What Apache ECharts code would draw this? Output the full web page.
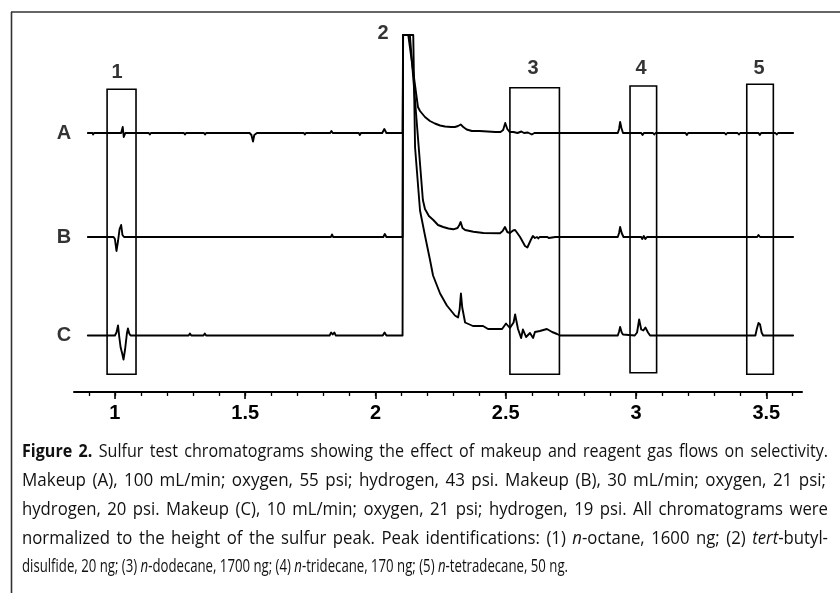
<!DOCTYPE html>
<html><head><meta charset="utf-8">
<script src="https://cdn.jsdelivr.net/npm/echarts@6/dist/echarts.min.js"></script>
<style>html,body{margin:0;padding:0;background:#fff}#c{width:840px;height:593px}</style>
</head><body><div id="c"></div>
<script>
// ---- data (retention time in min, detector response relative to each trace's baseline) ----
const traceNames = ['A', 'B', 'C'];
const traceA = [
 [0.896,0],[0.914,0],[0.916,-1.5],[0.920,0],[0.975,0],[1.024,0],[1.030,6],[1.034,-4],[1.040,0],
 [1.130,0],[1.134,-1.5],[1.138,0],[1.265,0],[1.269,-1.5],[1.273,0],[1.342,0],[1.346,-1.5],[1.350,0],
 [1.517,0],[1.524,-2],[1.530,-8.5],[1.535,-2],[1.545,0],[1.725,0],[1.729,-1.5],[1.733,0],
 [1.826,0],[1.831,2],[1.836,0],[1.936,0],[1.940,-2],[1.944,0],[2.026,0],[2.034,4],[2.042,0],
 [2.104,0],[2.106,98],[2.126,98],[2.163,26],[2.171,22],[2.19,16],[2.209,12],[2.228,9.5],[2.248,7.5],
 [2.267,6.5],[2.29,6],[2.305,6],[2.317,7],[2.327,8.5],[2.337,6],[2.35,3.5],[2.37,2],[2.40,2],[2.43,1.5],
 [2.46,1],[2.48,1],[2.49,3],[2.498,10],[2.506,4],[2.515,1],[2.53,1],[2.545,0],[2.56,1.5],[2.57,0],
 [2.585,0.5],[2.60,-1.5],[2.61,0],[2.93,0],[2.935,4],[2.939,11],[2.944,5],[2.950,0],[3.02,0],[3.025,-2],
 [3.03,0],[3.065,0],[3.07,-1.5],[3.075,0],[3.19,0],[3.195,-2],[3.20,0],[3.34,0],[3.345,-1.5],[3.35,0],
 [3.39,0],[3.395,-1.5],[3.40,0],[3.47,0],[3.475,-2],[3.48,0],[3.535,0],[3.54,-1.5],[3.545,0],[3.603,0]
];
const traceB = [
 [0.896,0],[0.995,0],[1.000,-2],[1.006,-14],[1.012,-4],[1.018,8],[1.024,12],[1.029,2],[1.035,0],
 [1.829,0],[1.833,2.5],[1.838,0],[2.030,0],[2.036,3],[2.042,0],[2.104,0],[2.106,202],[2.132,202],
 [2.182,37],[2.19,28],[2.205,21],[2.222,17],[2.24,12],[2.26,10],[2.28,8.5],[2.299,7.7],[2.315,9],
 [2.322,12],[2.327,15],[2.334,9],[2.344,7],[2.376,5.3],[2.414,4],[2.478,3.7],[2.488,6],[2.497,10],
 [2.506,5],[2.516,4],[2.528,6.5],[2.536,7],[2.555,0],[2.574,-9],[2.583,-10.5],[2.596,-3],[2.604,1],
 [2.612,-1],[2.62,0],[2.625,-1.5],[2.63,0],[2.66,0],[2.665,-1],[2.69,0],[2.93,0],[2.935,4],[2.939,10],
 [2.945,4],[2.952,0],[3.02,0],[3.024,-2],[3.03,1],[3.036,-2],[3.042,0],[3.465,0],[3.47,2],[3.476,0],[3.603,0]
];
const traceC = [
 [0.896,0],[0.990,0],[1.000,0],[1.006,3],[1.012,10],[1.017,-2],[1.022,-12],[1.028,-18],[1.033,-24],
 [1.039,-14],[1.046,2],[1.050,7],[1.055,2],[1.060,0],[1.283,0],[1.288,2],[1.293,0],[1.340,0],[1.345,2],
 [1.350,0],[1.824,0],[1.830,3],[1.836,1],[1.842,3],[1.848,0],[2.028,0],[2.035,3],[2.042,0],[2.104,0],
 [2.106,300.5],[2.145,300.5],[2.152,188],[2.171,125],[2.19,100],[2.209,76],[2.221,60],[2.248,42],
 [2.274,30],[2.305,20],[2.317,18],[2.323,26],[2.328,42],[2.333,28],[2.344,13],[2.374,9.5],[2.413,9.5],
 [2.432,6.5],[2.486,6.5],[2.501,12],[2.516,7.5],[2.530,13],[2.536,21],[2.547,6.5],[2.559,-2.5],
 [2.566,6],[2.578,-1.5],[2.593,2.5],[2.605,-2.5],[2.612,3.5],[2.631,4.5],[2.658,6.5],[2.678,3.5],
 [2.697,1.5],[2.708,0],[2.93,0],[2.935,4],[2.939,8.5],[2.945,3],[2.950,1],[2.995,0],[3.004,3],
 [3.012,16],[3.020,6],[3.028,5],[3.036,8],[3.046,3],[3.054,0],[3.458,0],[3.464,7],[3.470,12.5],
 [3.476,11],[3.482,3],[3.488,0],[3.603,0]
];
// peak windows (boxes) : start / end times and labels
const peakLabels = ['1', '2', '3', '4', '5'];
const peakLabelTimes = [1.008, 2.029, 2.605, 3.019, 3.472];
const boxLabels = ['1', '3', '4', '5'];
const boxStart = [0.970, 2.516, 2.977, 3.425];
const boxEnd = [1.081, 2.706, 3.079, 3.527];
// axis ticks
const tickLabels = [1, 1.5, 2, 2.5, 3, 3.5];
const minorTicks = [0.9,1.0,1.1,1.2,1.3,1.4,1.5,1.6,1.7,1.8,1.9,2.0,2.1,2.2,2.3,2.4,2.5,2.6,2.7,2.8,2.9,3.0,3.1,3.2,3.3,3.4,3.5,3.6];
// caption
const captionLines = [
 [['b','Figure 2.'],['r',' Sulfur test chromatograms showing the effect of makeup and reagent gas flows on selectivity.']],
 [['r','Makeup (A), 100 mL/min; oxygen, 55 psi; hydrogen, 43 psi. Makeup (B), 30 mL/min; oxygen, 21 psi;']],
 [['r','hydrogen, 20 psi. Makeup (C), 10 mL/min; oxygen, 21 psi; hydrogen, 19 psi. All chromatograms were']],
 [['r','normalized to the height of the sulfur peak. Peak identifications: (1) '],['i','n'],['r','-octane, 1600 ng; (2) '],['i','tert'],['r','-butyl-']],
 [['r','disulfide, 20 ng; (3) '],['i','n'],['r','-dodecane, 1700 ng; (4) '],['i','n'],['r','-tridecane, 170 ng; (5) '],['i','n'],['r','-tetradecane, 50 ng.']]
];

// ---- layout ----
const OFFSETS = [259, 155, 56.5];   // vertical stacking of chromatograms
const YMAX = 357;
const BOX_BOTTOM = [17.7, 17.7, 19.3, 17.7];
const BOX_TOP = [302.7, 304.3, 306, 307.7];
const PEAK_LABEL_Y = [320, 359, 324, 324, 324];
const CAP_FONT = '"Open Sans", "Noto Sans", sans-serif';
const CAP_SIZE = 18.5;
const CAP_X = 22;
const CAP_Y = [452, 481, 510, 538.5, 567];
const CAP_W = [806, 804, 806, 806, 546];
const CAP_JUSTIFIED = [true, true, true, true, false];
const CAP_CONDENSE = 0.96;   // glyph scale relative to a plain fit for justified lines
const LABEL_FONT = '"Liberation Sans", Arial, sans-serif';

const chart = echarts.init(document.getElementById('c'), null, {renderer: 'canvas'});

// ---- caption (justified lines) ----
const ctx = document.createElement('canvas').getContext('2d');
const segStyle = {
  b: {fontWeight: 'bold', fontStyle: 'normal'},
  r: {fontWeight: 'normal', fontStyle: 'normal'},
  i: {fontWeight: 'normal', fontStyle: 'italic'}
};
const rich = {};
Object.keys(segStyle).forEach(s => {
  rich[s] = Object.assign({fontFamily: CAP_FONT, fontSize: CAP_SIZE, fill: '#111'}, segStyle[s]);
});
function measure(pieces) {
  let w = 0;
  pieces.forEach(([s, t]) => {
    ctx.font = `${segStyle[s].fontStyle} ${segStyle[s].fontWeight} ${CAP_SIZE}px ${CAP_FONT}`;
    w += ctx.measureText(t).width;
  });
  return w;
}
function toWords(segs) {
  const words = []; let cur = [];
  segs.forEach(([s, t]) => {
    t.split(' ').forEach((p, j) => {
      if (j > 0) { if (cur.length) words.push(cur); cur = []; }
      if (p.length) cur.push([s, p]);
    });
  });
  if (cur.length) words.push(cur);
  return words;
}
ctx.font = `normal normal ${CAP_SIZE}px ${CAP_FONT}`;
const spaceW = ctx.measureText(' ').width;
const captionGraphics = [];
captionLines.forEach((segs, k) => {
  const words = toWords(segs);
  const ww = words.map(measure);
  const natural = ww.reduce((a, b) => a + b, 0) + spaceW * (words.length - 1);
  let scale = CAP_W[k] / natural;
  if (CAP_JUSTIFIED[k]) scale *= CAP_CONDENSE;
  const total = ww.reduce((a, b) => a + b, 0) * scale;
  const gap = (CAP_W[k] - total) / (words.length - 1);
  let x = CAP_X;
  words.forEach((w, j) => {
    captionGraphics.push({
      type: 'text', x: x, y: CAP_Y[k], scaleX: scale, silent: true,
      style: {
        text: w.map(([s, t]) => `{${s}|${t}}`).join(''),
        rich: rich, align: 'left', verticalAlign: 'middle',
        fontFamily: CAP_FONT, fontSize: CAP_SIZE, fill: '#111'
      }
    });
    x += ww[j] * scale + gap;
  });
});

// ---- chromatogram traces: one polyline per trace, positioned through the axes ----
const traces = [traceA, traceB, traceC];
const traceSeries = traces.map((tr, k) => {
  const pts = tr.map(([t, r]) => [t, r + OFFSETS[k]]);
  return {
    type: 'custom', name: traceNames[k], coordinateSystem: 'cartesian2d',
    xAxisIndex: 0, yAxisIndex: 0, silent: true, clip: false,
    encode: {x: 0, y: 1},
    data: pts,
    renderItem: (params, api) => {
      if (params.dataIndex !== 0) return null;
      return {
        type: 'polyline',
        shape: {points: pts.map(p => api.coord(p))},
        style: {stroke: '#000', fill: null, lineWidth: 1.9, lineJoin: 'round', lineCap: 'round'}
      };
    }
  };
});

const option = {
  animation: false,
  backgroundColor: '#fff',
  grid: {left: 74, right: 38, top: 35, bottom: 201, containLabel: false},
  xAxis: [{
    type: 'value', min: 0.843, max: 3.637, position: 'bottom',
    axisLine: {show: true, lineStyle: {color: '#000', width: 2}},
    axisTick: {show: true, customValues: tickLabels, length: 7, lineStyle: {color: '#000', width: 1.6}},
    axisLabel: {show: true, customValues: tickLabels, margin: 11, color: '#000',
      fontFamily: LABEL_FONT, fontWeight: 'bold', fontSize: 20,
      formatter: v => String(v)},
    splitLine: {show: false}
  }, {
    type: 'value', min: 0.843, max: 3.637, position: 'bottom', gridIndex: 0,
    axisLine: {show: false},
    axisTick: {show: true, customValues: minorTicks, length: 4, lineStyle: {color: '#000', width: 1.3}},
    axisLabel: {show: false}, splitLine: {show: false}
  }],
  yAxis: {type: 'value', min: 0, max: YMAX, show: false},
  series: traceSeries.concat([
    {
      type: 'scatter', name: 'traceLabels', symbolSize: 1, clip: false, silent: true,
      itemStyle: {color: 'rgba(0,0,0,0)'},
      data: traceNames.map((n, k) => [traces[k][0][0], OFFSETS[k], n]),
      label: {show: true, position: 'left', distance: 16, formatter: p => p.value[2],
        color: '#000', fontFamily: LABEL_FONT, fontWeight: 'bold', fontSize: 20}
    },
    {
      type: 'scatter', name: 'peakLabels', symbolSize: 1, clip: false, silent: true,
      itemStyle: {color: 'rgba(0,0,0,0)'},
      data: peakLabels.map((n, k) => [peakLabelTimes[k], PEAK_LABEL_Y[k], n]),
      label: {show: true, position: 'inside', formatter: p => p.value[2],
        color: '#000', fontFamily: LABEL_FONT, fontWeight: 'bold', fontSize: 20},
      markArea: {
        silent: true,
        itemStyle: {color: 'rgba(0,0,0,0)', borderColor: '#000', borderWidth: 1.6},
        label: {show: false},
        data: boxLabels.map((n, k) => [
          {name: n, xAxis: boxStart[k], yAxis: BOX_BOTTOM[k]},
          {xAxis: boxEnd[k], yAxis: BOX_TOP[k]}
        ])
      }
    }
  ]),
  graphic: [
    {type: 'line', silent: true, shape: {x1: 11, y1: 12, x2: 840, y2: 12}, style: {stroke: '#333', lineWidth: 1.6}},
    {type: 'line', silent: true, shape: {x1: 11.5, y1: 12, x2: 11.5, y2: 593}, style: {stroke: '#333', lineWidth: 1.6}}
  ].concat(captionGraphics)
};
chart.setOption(option);
</script>
</body></html>
